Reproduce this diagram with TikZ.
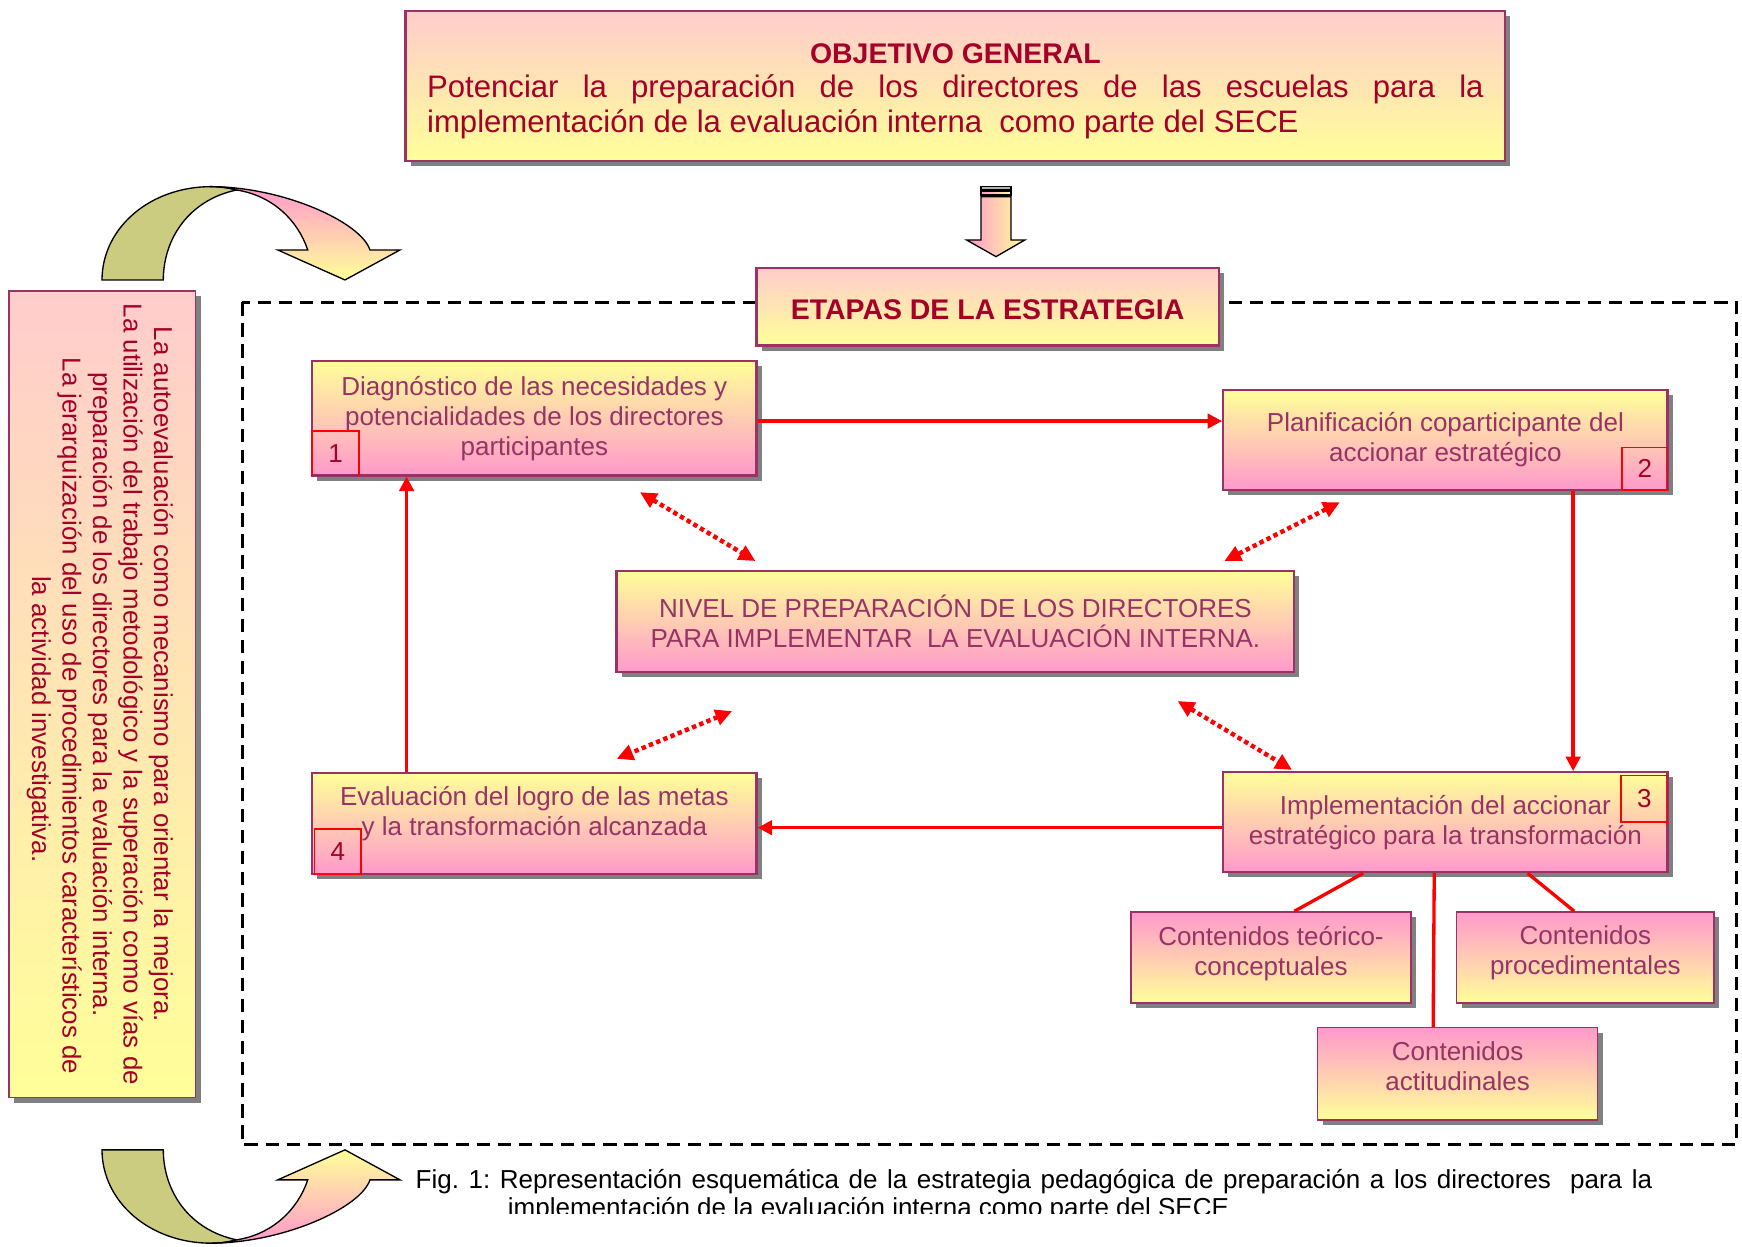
\documentclass[tikz,border=0pt]{standalone}
\usepackage{fontspec}
\setmainfont{Liberation Sans}
\usetikzlibrary{arrows.meta,shadows}
\definecolor{plum}{RGB}{153,51,102}
\definecolor{crim}{RGB}{165,0,40}
\definecolor{lpink}{RGB}{255,204,204}
\definecolor{yel}{RGB}{255,255,153}
\definecolor{pnk}{RGB}{255,153,204}
\definecolor{olv}{RGB}{204,204,128}
\definecolor{shgray}{RGB}{128,128,128}
\definecolor{rd}{RGB}{255,0,0}
\frenchspacing
\begin{document}
\begin{tikzpicture}[x=1pt,y=-1pt,
 shadowed/.style={drop shadow={shadow xshift=4.5pt,shadow yshift=-4.5pt,fill=shgray,opacity=1}},
 mainbox/.style={shadowed, draw=plum, line width=2pt, inner sep=0pt, align=center, text=plum, font=\fontsize{23.4}{27}\selectfont},
 stagebox/.style={mainbox, top color=yel, bottom color=pnk},
 contbox/.style={mainbox, line width=1.5pt, top color=pnk, bottom color=yel, text depth=13pt},
 headbox/.style={mainbox, top color=lpink, bottom color=yel, text=crim},
 numbox/.style={draw=rd, line width=1.3pt, inner sep=0pt, text=crim, font=\fontsize{23.4}{27}\selectfont},
 plaintext/.style={inner sep=0pt, align=center, text=plum, font=\fontsize{23.4}{27}\selectfont},
 conn/.style={draw=rd, line width=3pt, -{Triangle[length=13pt,width=13pt]}},
 link/.style={draw=rd, line width=3pt},
 dotarrow/.style={draw=rd, line width=4pt, dash pattern=on 4pt off 3pt, {Triangle[length=15pt,width=14pt]}-{Triangle[length=15pt,width=14pt]}},
 curvedark/.style={fill=olv, draw=black, line width=1.2pt},
 curvelight/.style={draw=black, line width=1.2pt},
 frame/.style={draw=black, line width=3pt, dash pattern=on 12pt off 7pt},
 captext/.style={anchor=base west, inner sep=0pt, font=\fontsize{23.4}{26}\selectfont},
]
\useasboundingbox (0,0) rectangle (1568,1122);

% dashed frame
\draw[frame] (218,272) rectangle (1563,1030);

% top curved arrow
\draw[curvedark] (91.8,252) .. controls (92,205) and (135,168) .. (190,168) .. controls (200,168) and (207,169) .. (213,171) .. controls (170,180) and (147,215) .. (147,252) -- cycle;
\draw[curvelight, top color=pnk, bottom color=yel] (189,168) .. controls (255,168) and (325,200) .. (333,225) -- (360,225) -- (310.5,252) -- (250,225) -- (277,225) .. controls (268,198) and (245,176) .. (213,171) .. controls (205,169) and (197,168) .. cycle;

% bottom curved arrow
\draw[curvedark] (91.8,1035) .. controls (92,1082) and (135,1119) .. (190,1119) .. controls (200,1119) and (207,1118) .. (213,1116) .. controls (170,1107) and (147,1072) .. (147,1035) -- cycle;
\draw[curvelight, top color=yel, bottom color=pnk] (189,1119) .. controls (255,1119) and (325,1087) .. (333,1062) -- (360,1062) -- (310.5,1035) -- (250,1062) -- (277,1062) .. controls (268,1089) and (245,1111) .. (213,1116) .. controls (205,1118) and (197,1119) .. cycle;

% small down arrow
\draw[black, line width=1pt, fill=gray!60] (883,168) rectangle (910,171);
\draw[black, line width=1pt, left color=pnk, right color=yel] (883,172.5) rectangle (910,175.5);
\draw[black, line width=1.2pt, left color=pnk, right color=yel] (883,177) -- (910,177) -- (910,216) -- (922.5,216) -- (896.5,231) -- (870,216) -- (883,216) -- cycle;

% objective
\node[headbox, minimum width=990pt, minimum height=135pt] (obj) at (860,77.5) {};
\node[inner sep=0pt, text=crim, text width=951pt, align=justify, font=\fontsize{28}{31}\selectfont] (objt) at (860,82)
 {\noindent\makebox[\linewidth][c]{\bfseries\fontsize{25.6}{31}\selectfont OBJETIVO GENERAL}\par
  \noindent\makebox[\linewidth][s]{Potenciar la preparación de los directores de las escuelas para la}\par
  \noindent implementación de la evaluación interna\ \ como parte del SECE};

% etapas
\node[headbox, minimum width=416pt, minimum height=70pt, text height=24pt, font=\bfseries\fontsize{25.6}{30}\selectfont] (etapas) at (889,276) {ETAPAS DE LA ESTRATEGIA};

% left box
\node[headbox, line width=1.3pt, minimum width=168pt, minimum height=726pt] (lbox) at (92,625) {};
\node[rotate=-90, text=crim, align=center, inner sep=0pt, font=\fontsize{23.3}{27.5}\selectfont] (ltext) at (90,625)
 {La autoevaluación como mecanismo para orientar la mejora.\makebox[36pt]{}\\
  La utilización del trabajo metodológico y la superación como vías de\\
  preparación de los directores para la evaluación interna.\\
  \makebox[39pt]{}La jerarquización del uso de procedimientos característicos de\\
  \makebox[45pt]{}la actividad investigativa.};

% stage boxes
\node[stagebox, minimum width=400pt, minimum height=103pt] (b1) at (481,376.5) {Diagnóstico de las necesidades y\\potencialidades de los directores\\participantes};
\node[stagebox, minimum width=400pt, minimum height=90pt] (b2) at (1301,396) {Planificación coparticipante del\\accionar estratégico};
\node[stagebox, minimum width=610pt, minimum height=91pt] (cn) at (860,559.5) {NIVEL DE PREPARACIÓN DE LOS DIRECTORES\\PARA IMPLEMENTAR\ \ LA EVALUACIÓN INTERNA.};
\node[stagebox, minimum width=400pt, minimum height=91pt] (b4) at (481,741.5) {};
\node[plaintext] (b4t) at (481,732.5) {Evaluación del logro de las metas\\y la transformación alcanzada};
\node[stagebox, minimum width=400pt, minimum height=90pt] (b3) at (1301,740) {Implementación del accionar\\estratégico para la transformación};

% content boxes
\node[contbox, minimum width=252pt, minimum height=82pt] (c1) at (1144,862) {Contenidos teórico-\\conceptuales};
\node[contbox, minimum width=232pt, minimum height=82pt] (c2) at (1427,862) {Contenidos\\procedimentales};
\node[contbox, minimum width=252pt, minimum height=83pt] (c3) at (1312,966.5) {Contenidos\\actitudinales};

% number boxes
\node[numbox, minimum width=42pt, minimum height=40pt] (n1) at (302,408) {1};
\node[numbox, minimum width=41pt, minimum height=38pt] (n2) at (1480.5,422) {2};
\node[numbox, minimum width=42pt, minimum height=42pt] (n3) at (1480,719) {3};
\node[numbox, minimum width=42pt, minimum height=41pt] (n4) at (304,766.5) {4};

% main cycle connectors
\draw[conn] ([yshift=-2.5pt]b1.east) -- ([yshift=-2.5pt]b1.east -| b2.west);
\draw[conn] ([xshift=115pt]b2.south) -- ([xshift=115pt]b2.south |- b3.north);
\draw[conn] ([yshift=-5pt]b3.west) -- ([yshift=-5pt]b3.west -| b4.east);
\draw[conn] ([xshift=-115pt]b4.north) -- ([xshift=-115pt]b4.north |- b1.south);

% content links
\draw[link] ([xshift=-74pt]b3.south) -- ([xshift=21pt]c1.north);
\draw[link] ([xshift=-10pt]b3.south) -- ([xshift=-22pt]c3.north);
\draw[link] ([xshift=74pt]b3.south) -- ([xshift=-10pt]c2.north);

% dotted double arrows
\coordinate (d1a) at (576,443);
\coordinate (d1b) at (680,505);
\coordinate (d2a) at (1206,452);
\coordinate (d2b) at (1102,505);
\coordinate (d3a) at (659,640);
\coordinate (d3b) at (555,683);
\coordinate (d4a) at (1060,631);
\coordinate (d4b) at (1163,693);
\draw[dotarrow] (d1a) -- (d1b);
\draw[dotarrow] (d2a) -- (d2b);
\draw[dotarrow] (d3a) -- (d3b);
\draw[dotarrow] (d4a) -- (d4b);

% caption (clipped as in the reference)
\begin{scope}
\clip (360,1040) rectangle (1568,1092);
\node[captext] (cap1) at (374,1070) {\makebox[1113pt][s]{Fig. 1: Representación esquemática de la estrategia pedagógica de preparación a los directores\ \ para la}};
\node[captext] (cap2) at (457,1095) {implementación de la evaluación interna como parte del SECE};
\end{scope}
\end{tikzpicture}
\end{document}
